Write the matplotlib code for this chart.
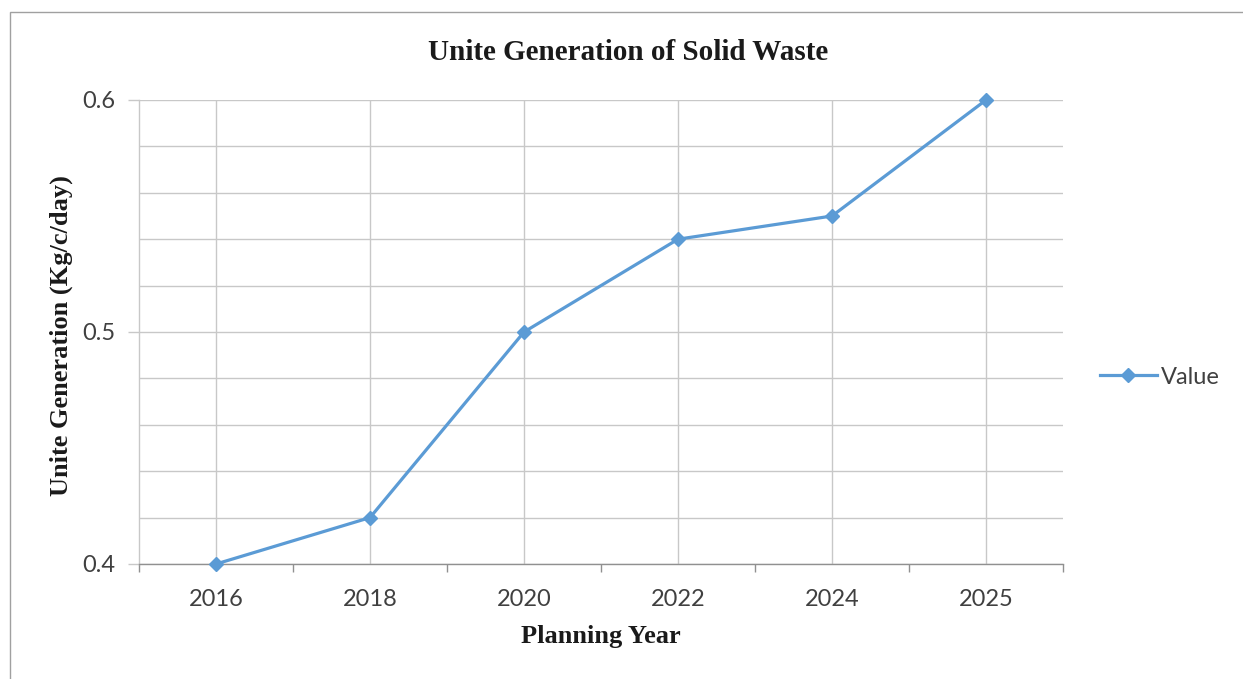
import matplotlib.pyplot as plt
from matplotlib.lines import Line2D
from matplotlib.patches import Rectangle
from matplotlib.ticker import MultipleLocator, FixedLocator, FixedFormatter

years = ["2016", "2018", "2020", "2022", "2024", "2025"]
values = [0.40, 0.42, 0.50, 0.54, 0.55, 0.60]
y_ticks = [0.4, 0.5, 0.6]
y_tick_labels = ["0.4", "0.5", "0.6"]

blue = "#5B9BD5"
grid_c = "#C8C8C8"
text_c = "#404040"
W, H = 1243, 679

fig = plt.figure(figsize=(W / 100, H / 100), dpi=100)
ax = fig.add_axes([139 / W, 1 - 564 / H, 924 / W, 464 / H])

# outer chart frame
fig.patches.append(Rectangle((10 / W, -0.01), 1.2, 1 - 12 / H + 0.01,
                             transform=fig.transFigure, fill=False,
                             edgecolor="#A0A0A0", lw=1.0))

x = list(range(len(years)))
ax.plot(x, values, color=blue, lw=2.3, marker="D", ms=7,
        markerfacecolor=blue, markeredgecolor=blue, zorder=3, clip_on=False)

ax.set_xlim(-0.5, len(years) - 0.5)
ax.set_ylim(0.4, 0.6)

# horizontal grid every 0.02, labels only on 0.1 steps
ax.yaxis.set_minor_locator(MultipleLocator(0.02))
ax.yaxis.set_major_locator(FixedLocator(y_ticks))
ax.yaxis.set_major_formatter(FixedFormatter(y_tick_labels))
ax.grid(which="both", axis="y", color=grid_c, lw=1.0)
ax.tick_params(axis="y", which="minor", length=0)
ax.tick_params(axis="y", which="major", length=8, color=grid_c, width=1.0,
               labelsize=17, labelcolor=text_c, pad=9)

# vertical grid at category centres, tick marks between categories
for xi in x:
    ax.axvline(xi, color=grid_c, lw=1.0, zorder=1)
ax.set_xticks(x)
ax.set_xticklabels(years)
ax.set_xticks([i - 0.5 for i in range(len(years) + 1)], minor=True)
ax.tick_params(axis="x", which="major", length=0, labelsize=17,
               labelcolor=text_c, pad=18)
ax.tick_params(axis="x", which="minor", length=6, color="#909090", width=1.0)

for s in ["top", "right"]:
    ax.spines[s].set_visible(False)
ax.spines["left"].set_color(grid_c)
ax.spines["left"].set_linewidth(1.0)
ax.spines["bottom"].set_color("#909090")
ax.spines["bottom"].set_linewidth(1.0)

for lbl in ax.get_xticklabels() + ax.get_yticklabels():
    lbl.set_family("Lato")

serif = "Liberation Serif"
fig.text(628 / W, 1 - 52 / H, "Unite Generation of Solid Waste",
         ha="center", va="center", fontsize=21, fontweight="bold",
         family=serif, color="#1a1a1a")
fig.text(601 / W, 1 - 637 / H, "Planning Year",
         ha="center", va="center", fontsize=19, fontweight="bold",
         family=serif, color="#1a1a1a")
fig.text(61 / W, 1 - 336 / H, "Unite Generation (Kg/c/day)",
         rotation=90, ha="center", va="center", fontsize=19,
         fontweight="bold", family=serif, color="#1a1a1a")

handle = Line2D([], [], color=blue, lw=2.3, marker="D", ms=7)
fig.legend([handle], ["Value"], loc="center left",
           bbox_to_anchor=(1100 / W, 1 - 377 / H), frameon=False,
           prop={"family": "Lato", "size": 17}, labelcolor=text_c,
           handlelength=2.4, handletextpad=0.2, borderaxespad=0,
           borderpad=0)

fig.savefig("out.png", dpi=100)
